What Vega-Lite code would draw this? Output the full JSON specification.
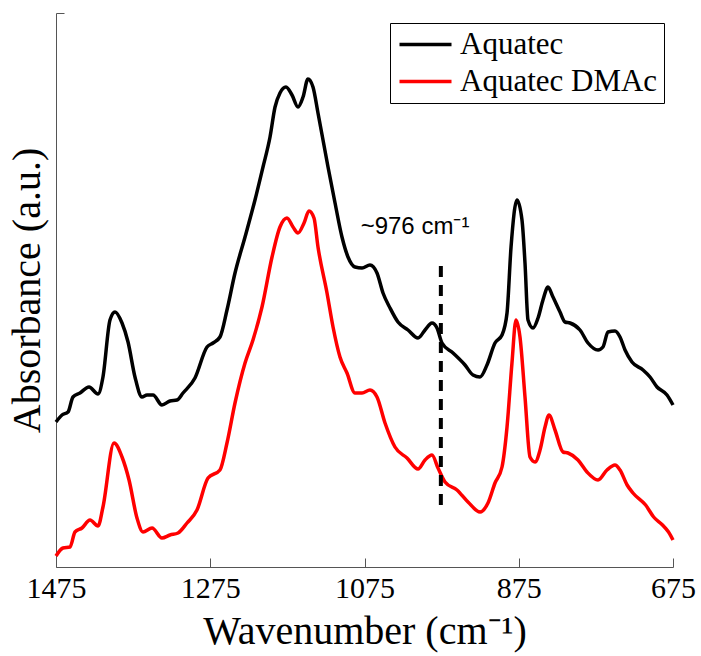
{
  "$schema": "https://vega.github.io/schema/vega-lite/v6.json",
  "width": 617,
  "height": 554,
  "autosize": {"type": "none"},
  "padding": {"left": 56, "top": 13, "right": 28, "bottom": 89},
  "background": "white",
  "config": {"view": {"stroke": null}, "font": "Liberation Serif"},
  "datasets": {
    "spectra": [
      {"w": 1475, "a": 145, "s": "Aquatec"},
      {"w": 1467.2, "a": 152, "s": "Aquatec"},
      {"w": 1459.4, "a": 155, "s": "Aquatec"},
      {"w": 1453.0, "a": 170, "s": "Aquatec"},
      {"w": 1443.9, "a": 174, "s": "Aquatec"},
      {"w": 1432.2, "a": 180, "s": "Aquatec"},
      {"w": 1420.5, "a": 173, "s": "Aquatec"},
      {"w": 1414.1, "a": 190, "s": "Aquatec"},
      {"w": 1405.0, "a": 247, "s": "Aquatec"},
      {"w": 1398.5, "a": 255, "s": "Aquatec"},
      {"w": 1389.4, "a": 244, "s": "Aquatec"},
      {"w": 1381.6, "a": 225, "s": "Aquatec"},
      {"w": 1372.6, "a": 190, "s": "Aquatec"},
      {"w": 1363.5, "a": 170, "s": "Aquatec"},
      {"w": 1357.0, "a": 172, "s": "Aquatec"},
      {"w": 1349.2, "a": 172, "s": "Aquatec"},
      {"w": 1337.6, "a": 162, "s": "Aquatec"},
      {"w": 1327.2, "a": 166, "s": "Aquatec"},
      {"w": 1318.1, "a": 167, "s": "Aquatec"},
      {"w": 1310.3, "a": 174, "s": "Aquatec"},
      {"w": 1294.8, "a": 189, "s": "Aquatec"},
      {"w": 1279.2, "a": 220, "s": "Aquatec"},
      {"w": 1271.4, "a": 224, "s": "Aquatec"},
      {"w": 1262.4, "a": 230, "s": "Aquatec"},
      {"w": 1253.3, "a": 257, "s": "Aquatec"},
      {"w": 1242.9, "a": 294, "s": "Aquatec"},
      {"w": 1229.9, "a": 330, "s": "Aquatec"},
      {"w": 1217.0, "a": 367, "s": "Aquatec"},
      {"w": 1206.6, "a": 400, "s": "Aquatec"},
      {"w": 1197.5, "a": 430, "s": "Aquatec"},
      {"w": 1191.0, "a": 460, "s": "Aquatec"},
      {"w": 1184.6, "a": 474, "s": "Aquatec"},
      {"w": 1176.8, "a": 480, "s": "Aquatec"},
      {"w": 1169.0, "a": 472, "s": "Aquatec"},
      {"w": 1161.2, "a": 460, "s": "Aquatec"},
      {"w": 1154.7, "a": 470, "s": "Aquatec"},
      {"w": 1148.3, "a": 488, "s": "Aquatec"},
      {"w": 1141.8, "a": 480, "s": "Aquatec"},
      {"w": 1135.3, "a": 454, "s": "Aquatec"},
      {"w": 1128.8, "a": 427, "s": "Aquatec"},
      {"w": 1122.3, "a": 400, "s": "Aquatec"},
      {"w": 1113.2, "a": 364, "s": "Aquatec"},
      {"w": 1104.2, "a": 330, "s": "Aquatec"},
      {"w": 1096.4, "a": 310, "s": "Aquatec"},
      {"w": 1087.3, "a": 300, "s": "Aquatec"},
      {"w": 1078.2, "a": 299, "s": "Aquatec"},
      {"w": 1067.9, "a": 302, "s": "Aquatec"},
      {"w": 1058.8, "a": 294, "s": "Aquatec"},
      {"w": 1051.0, "a": 274, "s": "Aquatec"},
      {"w": 1041.9, "a": 259, "s": "Aquatec"},
      {"w": 1031.6, "a": 245, "s": "Aquatec"},
      {"w": 1018.6, "a": 237, "s": "Aquatec"},
      {"w": 1005.6, "a": 229, "s": "Aquatec"},
      {"w": 996.5, "a": 237, "s": "Aquatec"},
      {"w": 987.5, "a": 244, "s": "Aquatec"},
      {"w": 981.0, "a": 239, "s": "Aquatec"},
      {"w": 974.5, "a": 224, "s": "Aquatec"},
      {"w": 960.2, "a": 214, "s": "Aquatec"},
      {"w": 944.7, "a": 202, "s": "Aquatec"},
      {"w": 934.3, "a": 192, "s": "Aquatec"},
      {"w": 925.2, "a": 190, "s": "Aquatec"},
      {"w": 916.2, "a": 202, "s": "Aquatec"},
      {"w": 905.8, "a": 224, "s": "Aquatec"},
      {"w": 896.7, "a": 232, "s": "Aquatec"},
      {"w": 890.2, "a": 254, "s": "Aquatec"},
      {"w": 885.0, "a": 320, "s": "Aquatec"},
      {"w": 877.3, "a": 367, "s": "Aquatec"},
      {"w": 870.8, "a": 347, "s": "Aquatec"},
      {"w": 866.9, "a": 304, "s": "Aquatec"},
      {"w": 863.0, "a": 247, "s": "Aquatec"},
      {"w": 856.5, "a": 239, "s": "Aquatec"},
      {"w": 850.0, "a": 249, "s": "Aquatec"},
      {"w": 843.6, "a": 267, "s": "Aquatec"},
      {"w": 837.1, "a": 280, "s": "Aquatec"},
      {"w": 830.6, "a": 270, "s": "Aquatec"},
      {"w": 821.5, "a": 255, "s": "Aquatec"},
      {"w": 815.0, "a": 245, "s": "Aquatec"},
      {"w": 808.5, "a": 244, "s": "Aquatec"},
      {"w": 795.6, "a": 237, "s": "Aquatec"},
      {"w": 785.2, "a": 224, "s": "Aquatec"},
      {"w": 772.2, "a": 217, "s": "Aquatec"},
      {"w": 765.8, "a": 220, "s": "Aquatec"},
      {"w": 759.3, "a": 235, "s": "Aquatec"},
      {"w": 750.2, "a": 236, "s": "Aquatec"},
      {"w": 743.7, "a": 230, "s": "Aquatec"},
      {"w": 737.2, "a": 217, "s": "Aquatec"},
      {"w": 728.2, "a": 205, "s": "Aquatec"},
      {"w": 713.9, "a": 197, "s": "Aquatec"},
      {"w": 704.8, "a": 190, "s": "Aquatec"},
      {"w": 695.7, "a": 180, "s": "Aquatec"},
      {"w": 682.8, "a": 172, "s": "Aquatec"},
      {"w": 675, "a": 162, "s": "Aquatec"},
      {"w": 1475, "a": 11, "s": "Aquatec DMAc"},
      {"w": 1465.9, "a": 19, "s": "Aquatec DMAc"},
      {"w": 1456.8, "a": 20, "s": "Aquatec DMAc"},
      {"w": 1450.4, "a": 35, "s": "Aquatec DMAc"},
      {"w": 1441.3, "a": 39, "s": "Aquatec DMAc"},
      {"w": 1430.9, "a": 47, "s": "Aquatec DMAc"},
      {"w": 1420.5, "a": 41, "s": "Aquatec DMAc"},
      {"w": 1414.1, "a": 60, "s": "Aquatec DMAc"},
      {"w": 1399.8, "a": 124, "s": "Aquatec DMAc"},
      {"w": 1389.4, "a": 110, "s": "Aquatec DMAc"},
      {"w": 1380.3, "a": 87, "s": "Aquatec DMAc"},
      {"w": 1370.0, "a": 49, "s": "Aquatec DMAc"},
      {"w": 1362.2, "a": 35, "s": "Aquatec DMAc"},
      {"w": 1350.5, "a": 39, "s": "Aquatec DMAc"},
      {"w": 1337.6, "a": 29, "s": "Aquatec DMAc"},
      {"w": 1327.2, "a": 32, "s": "Aquatec DMAc"},
      {"w": 1316.8, "a": 34, "s": "Aquatec DMAc"},
      {"w": 1305.1, "a": 44, "s": "Aquatec DMAc"},
      {"w": 1292.2, "a": 57, "s": "Aquatec DMAc"},
      {"w": 1277.9, "a": 89, "s": "Aquatec DMAc"},
      {"w": 1262.4, "a": 97, "s": "Aquatec DMAc"},
      {"w": 1253.3, "a": 124, "s": "Aquatec DMAc"},
      {"w": 1242.9, "a": 164, "s": "Aquatec DMAc"},
      {"w": 1229.9, "a": 204, "s": "Aquatec DMAc"},
      {"w": 1219.6, "a": 227, "s": "Aquatec DMAc"},
      {"w": 1207.9, "a": 260, "s": "Aquatec DMAc"},
      {"w": 1194.9, "a": 310, "s": "Aquatec DMAc"},
      {"w": 1184.6, "a": 340, "s": "Aquatec DMAc"},
      {"w": 1175.5, "a": 349, "s": "Aquatec DMAc"},
      {"w": 1167.7, "a": 340, "s": "Aquatec DMAc"},
      {"w": 1161.2, "a": 334, "s": "Aquatec DMAc"},
      {"w": 1153.4, "a": 344, "s": "Aquatec DMAc"},
      {"w": 1147.0, "a": 356, "s": "Aquatec DMAc"},
      {"w": 1140.5, "a": 349, "s": "Aquatec DMAc"},
      {"w": 1135.3, "a": 320, "s": "Aquatec DMAc"},
      {"w": 1123.6, "a": 274, "s": "Aquatec DMAc"},
      {"w": 1115.8, "a": 240, "s": "Aquatec DMAc"},
      {"w": 1106.8, "a": 210, "s": "Aquatec DMAc"},
      {"w": 1097.7, "a": 194, "s": "Aquatec DMAc"},
      {"w": 1087.3, "a": 174, "s": "Aquatec DMAc"},
      {"w": 1078.2, "a": 174, "s": "Aquatec DMAc"},
      {"w": 1067.9, "a": 177, "s": "Aquatec DMAc"},
      {"w": 1058.8, "a": 170, "s": "Aquatec DMAc"},
      {"w": 1048.4, "a": 144, "s": "Aquatec DMAc"},
      {"w": 1035.5, "a": 120, "s": "Aquatec DMAc"},
      {"w": 1019.9, "a": 109, "s": "Aquatec DMAc"},
      {"w": 1005.6, "a": 98, "s": "Aquatec DMAc"},
      {"w": 996.5, "a": 107, "s": "Aquatec DMAc"},
      {"w": 987.5, "a": 112, "s": "Aquatec DMAc"},
      {"w": 979.7, "a": 99, "s": "Aquatec DMAc"},
      {"w": 970.6, "a": 85, "s": "Aquatec DMAc"},
      {"w": 955.1, "a": 77, "s": "Aquatec DMAc"},
      {"w": 940.8, "a": 65, "s": "Aquatec DMAc"},
      {"w": 925.2, "a": 55, "s": "Aquatec DMAc"},
      {"w": 914.9, "a": 64, "s": "Aquatec DMAc"},
      {"w": 905.8, "a": 84, "s": "Aquatec DMAc"},
      {"w": 896.7, "a": 100, "s": "Aquatec DMAc"},
      {"w": 890.2, "a": 140, "s": "Aquatec DMAc"},
      {"w": 883.8, "a": 204, "s": "Aquatec DMAc"},
      {"w": 878.6, "a": 247, "s": "Aquatec DMAc"},
      {"w": 873.4, "a": 230, "s": "Aquatec DMAc"},
      {"w": 866.9, "a": 170, "s": "Aquatec DMAc"},
      {"w": 860.4, "a": 110, "s": "Aquatec DMAc"},
      {"w": 853.9, "a": 105, "s": "Aquatec DMAc"},
      {"w": 847.4, "a": 117, "s": "Aquatec DMAc"},
      {"w": 840.9, "a": 140, "s": "Aquatec DMAc"},
      {"w": 835.8, "a": 152, "s": "Aquatec DMAc"},
      {"w": 828.0, "a": 137, "s": "Aquatec DMAc"},
      {"w": 817.6, "a": 115, "s": "Aquatec DMAc"},
      {"w": 811.1, "a": 114, "s": "Aquatec DMAc"},
      {"w": 798.2, "a": 107, "s": "Aquatec DMAc"},
      {"w": 786.5, "a": 95, "s": "Aquatec DMAc"},
      {"w": 772.2, "a": 87, "s": "Aquatec DMAc"},
      {"w": 760.6, "a": 97, "s": "Aquatec DMAc"},
      {"w": 750.2, "a": 102, "s": "Aquatec DMAc"},
      {"w": 743.7, "a": 97, "s": "Aquatec DMAc"},
      {"w": 734.5, "a": 82, "s": "Aquatec DMAc"},
      {"w": 726.9, "a": 74, "s": "Aquatec DMAc"},
      {"w": 710.5, "a": 62, "s": "Aquatec DMAc"},
      {"w": 700.1, "a": 50, "s": "Aquatec DMAc"},
      {"w": 688.6, "a": 42, "s": "Aquatec DMAc"},
      {"w": 680.8, "a": 35, "s": "Aquatec DMAc"},
      {"w": 675, "a": 27, "s": "Aquatec DMAc"}
    ],
    "marker": [{"w": 976, "lo": 62, "hi": 307}],
    "note": [{"w": 1009.5, "a": 340, "t": "~976 cm⁻¹"}]
  },
  "layer": [
    {
      "data": {"name": "spectra"},
      "mark": {"type": "line", "strokeWidth": 3.5, "interpolate": "monotone"},
      "encoding": {
        "x": {
          "field": "w", "type": "quantitative",
          "scale": {"domain": [675, 1475], "reverse": true, "nice": false, "zero": false},
          "axis": {
            "title": "Wavenumber (cm⁻¹)",
            "values": [1475, 1275, 1075, 875, 675],
            "format": "d",
            "grid": false,
            "tickSize": -9,
            "labelPadding": 15,
            "domainColor": "#555555",
            "tickColor": "#555555",
            "labelFont": "Liberation Serif",
            "labelFontSize": 30,
            "labelColor": "black",
            "labelFlush": false,
            "labelOverlap": false,
            "titleFont": "Liberation Serif",
            "titleFontSize": 40,
            "titleFontWeight": "normal",
            "titleColor": "black",
            "titlePadding": 8
          }
        },
        "y": {
          "field": "a", "type": "quantitative",
          "scale": {"domain": [0, 554], "nice": false},
          "axis": {
            "title": "Absorbance (a.u.)",
            "values": [554],
            "labels": false,
            "grid": false,
            "tickSize": -8,
            "domainColor": "#555555",
            "tickColor": "#555555",
            "titleFont": "Liberation Serif",
            "titleFontSize": 40,
            "titleFontWeight": "normal",
            "titleColor": "black",
            "titlePadding": 8
          }
        },
        "color": {
          "field": "s", "type": "nominal",
          "scale": {"domain": ["Aquatec", "Aquatec DMAc"], "range": ["#000000", "#ff0000"]},
          "legend": {
            "orient": "none",
            "legendX": 334,
            "legendY": 10,
            "title": null,
            "strokeColor": "black",
            "fillColor": "white",
            "padding": 6,
            "symbolType": "M-1.2,0H4.0",
            "symbolSize": 400,
            "symbolStrokeWidth": 3.5,
            "labelFont": "Liberation Serif",
            "labelFontSize": 31,
            "labelColor": "black",
            "labelLimit": 400,
            "labelOffset": 33,
            "rowPadding": 5
          }
        }
      }
    },
    {
      "data": {"name": "marker"},
      "mark": {"type": "rule", "strokeDash": [11, 8], "strokeWidth": 4, "color": "black"},
      "encoding": {
        "x": {"field": "w", "type": "quantitative"},
        "y": {"field": "lo", "type": "quantitative"},
        "y2": {"field": "hi"}
      }
    },
    {
      "data": {"name": "note"},
      "mark": {"type": "text", "font": "Liberation Sans", "fontSize": 24, "align": "center", "baseline": "middle", "color": "black"},
      "encoding": {
        "x": {"field": "w", "type": "quantitative"},
        "y": {"field": "a", "type": "quantitative"},
        "text": {"field": "t"}
      }
    }
  ]
}
